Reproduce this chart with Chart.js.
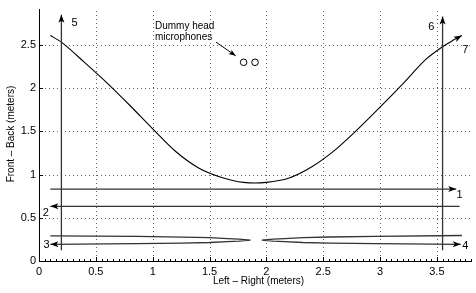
<!DOCTYPE html>
<html>
<head>
<meta charset="utf-8">
<script src="https://cdn.jsdelivr.net/npm/chart.js@4/dist/chart.umd.min.js"></script>
<style>
html, body { margin: 0; padding: 0; background: #fff; }
</style>
</head>
<body>
<canvas id="chart" width="476" height="293"></canvas>
<script>
const FONT = "'Liberation Sans', Arial, Helvetica, sans-serif";

// axes
const xTicks = [0, 0.5, 1, 1.5, 2, 2.5, 3, 3.5];
const yTicks = [0, 0.5, 1, 1.5, 2, 2.5];

// source path (curve 7)
const curveX = [0.10, 0.20, 0.40, 0.60, 0.80, 1.00, 1.20, 1.40, 1.60, 1.80, 2.00, 2.20, 2.40, 2.60, 2.80, 3.00, 3.20, 3.40, 3.55, 3.65, 3.72];
const curveY = [2.61, 2.53, 2.30, 2.06, 1.80, 1.53, 1.27, 1.08, 0.97, 0.91, 0.91, 0.96, 1.09, 1.28, 1.52, 1.78, 2.05, 2.33, 2.48, 2.56, 2.61];

// straight paths 1, 2
const path1X = [0.10, 3.67];
const path1Y = [0.833, 0.833];
const path2X = [3.70, 0.10];
const path2Y = [0.633, 0.633];

// narrow loops 3 and 4
const path3X = [0.10, 0.86, 1.26, 1.50, 1.66, 1.76, 1.86, 1.76, 1.66, 1.50, 1.26, 0.86, 0.10];
const path3Y = [0.290, 0.284, 0.277, 0.270, 0.260, 0.254, 0.242, 0.230, 0.224, 0.214, 0.207, 0.200, 0.193];
const path4X = [3.72, 2.96, 2.56, 2.32, 2.16, 2.06, 1.96, 2.06, 2.16, 2.32, 2.56, 2.96, 3.71];
const path4Y = [0.295, 0.286, 0.278, 0.270, 0.260, 0.254, 0.242, 0.230, 0.224, 0.214, 0.207, 0.200, 0.193];

// vertical paths 5, 6
const path5X = [0.197, 0.197];
const path5Y = [0.125, 2.85];
const path6X = [3.55, 3.55];
const path6Y = [0.125, 2.83];

// microphones + pointer
const micX = [1.8, 1.9];
const micY = [2.3, 2.3];
const pointerX = [1.557, 1.73];
const pointerY = [2.534, 2.375];
const noteLines = ["Dummy head", "microphones"];
const noteX = 1.02;
const noteY = [2.716, 2.59];

// path numbers
const pathLabels = ["1", "2", "3", "4", "5", "6", "7"];
const labelX = [3.70, 0.06, 0.067, 3.75, 0.313, 3.45, 3.75];
const labelY = [0.76, 0.56, 0.19, 0.174, 2.76, 2.71, 2.44];

function pts(xs, ys) {
    return xs.map((x, i) => ({ x: x, y: ys[i] }));
}

function track(xs, ys, color, width, head) {
    return {
        data: pts(xs, ys),
        showLine: true,
        borderColor: color,
        borderWidth: width,
        pointRadius: 0,
        tension: 0,
        arrowHead: head
    };
}

// dotted grid, drawn under the data
const dottedGrid = {
    id: "dottedGrid",
    beforeDatasetsDraw(chart) {
        const ctx = chart.ctx;
        const xs = chart.scales.x, ys = chart.scales.y;
        const area = chart.chartArea;
        ctx.save();
        ctx.fillStyle = "#666";
        // one dot every 4 px along each grid line
        xTicks.slice(1).forEach(v => {
            const px = Math.round(xs.getPixelForValue(v));
            for (let y = area.bottom - 2; y > area.top; y -= 4) ctx.fillRect(px, y, 1, 1);
        });
        yTicks.slice(1).forEach(v => {
            const py = Math.round(ys.getPixelForValue(v));
            for (let x = area.left + 2; x < area.right; x += 4) ctx.fillRect(x, py, 1, 1);
        });
        ctx.restore();
    }
};

const annotate = {
    id: "annotate",
    afterDatasetsDraw(chart) {
        const ctx = chart.ctx;
        const xs = chart.scales.x, ys = chart.scales.y;
        const area = chart.chartArea;

        // arrow heads at the end of flagged datasets
        chart.data.datasets.forEach((ds, i) => {
            if (!ds.arrowHead) return;
            const meta = chart.getDatasetMeta(i);
            const n = meta.data.length;
            const a = meta.data[n - 1], b = meta.data[n - 2];
            const ang = Math.atan2(a.y - b.y, a.x - b.x);
            const L = ds.arrowHead, W = L * 0.38;
            ctx.save();
            ctx.translate(a.x, a.y);
            ctx.rotate(ang);
            ctx.fillStyle = "#000";
            ctx.beginPath();
            ctx.moveTo(0, 0);
            ctx.lineTo(-L, -W);
            ctx.lineTo(-L * 0.75, 0);
            ctx.lineTo(-L, W);
            ctx.closePath();
            ctx.fill();
            ctx.restore();
        });

        // inward ticks (major + minor on x)
        ctx.save();
        ctx.strokeStyle = "#000";
        ctx.lineWidth = 1;
        ctx.beginPath();
        for (let v = 0; v <= 3.8001; v += 0.05) {
            const px = Math.round(xs.getPixelForValue(v)) + 0.5;
            const major = Math.abs(v / 0.5 - Math.round(v / 0.5)) < 1e-6;
            ctx.moveTo(px, area.bottom);
            ctx.lineTo(px, area.bottom - (major ? 4 : 2));
        }
        yTicks.forEach(v => {
            const py = Math.round(ys.getPixelForValue(v)) + 0.5;
            ctx.moveTo(area.left, py);
            ctx.lineTo(area.left + 4, py);
        });
        ctx.stroke();

        // path numbers
        ctx.fillStyle = "#000";
        ctx.font = "11px " + FONT;
        ctx.textAlign = "center";
        ctx.textBaseline = "middle";
        pathLabels.forEach((t, i) => {
            ctx.fillText(t, xs.getPixelForValue(labelX[i]), ys.getPixelForValue(labelY[i]));
        });

        // microphone note
        ctx.font = "10px " + FONT;
        ctx.textAlign = "left";
        noteLines.forEach((t, i) => {
            ctx.fillText(t, xs.getPixelForValue(noteX), ys.getPixelForValue(noteY[i]));
        });

        // axis titles
        ctx.font = "10px " + FONT;
        ctx.textAlign = "center";
        ctx.fillText("Left \u2013 Right (meters)", 258.5, 281);
        ctx.translate(11, 134);
        ctx.rotate(-Math.PI / 2);
        ctx.fillText("Front \u2013 Back (meters)", 0, 0);
        ctx.restore();
    }
};

new Chart(document.getElementById("chart"), {
    type: "scatter",
    data: {
        datasets: [
            track(path1X, path1Y, "#333", 1.3, 8),
            track(path2X, path2Y, "#333", 1.3, 8),
            track(path3X, path3Y, "#333", 1.3, 8),
            track(path4X, path4Y, "#333", 1.3, 8),
            track(path5X, path5Y, "#333", 1.3, 8),
            track(path6X, path6Y, "#333", 1.3, 8),
            {
                data: pts(curveX, curveY),
                showLine: true,
                borderColor: "#000",
                borderWidth: 1.1,
                pointRadius: 0,
                tension: 0.3,
                arrowHead: 8
            },
            track(pointerX, pointerY, "#000", 1, 7),
            {
                data: pts(micX, micY),
                pointStyle: "circle",
                pointRadius: 3.3,
                borderColor: "#000",
                borderWidth: 1,
                backgroundColor: "#fff"
            }
        ]
    },
    options: {
        responsive: false,
        animation: false,
        devicePixelRatio: 1,
        layout: { padding: { top: 5, right: 0, left: 0, bottom: 0 } },
        plugins: { legend: { display: false }, tooltip: { enabled: false } },
        scales: {
            x: {
                type: "linear",
                min: 0,
                max: 3.8,
                afterBuildTicks: s => { s.ticks = xTicks.map(v => ({ value: v })); },
                afterFit: s => { s.height = 32; },
                grid: { drawOnChartArea: false, drawTicks: false },
                border: { color: "#000", width: 1 },
                ticks: { color: "#000", padding: 4, maxRotation: 0, callback: v => String(v), font: { family: FONT, size: 11 } }
            },
            y: {
                type: "linear",
                min: 0,
                max: 2.91,
                afterBuildTicks: s => { s.ticks = yTicks.map(v => ({ value: v })); },
                afterFit: s => { s.width = 39; },
                grid: { drawOnChartArea: false, drawTicks: false },
                border: { color: "#000", width: 1 },
                ticks: { color: "#000", padding: 3, callback: v => String(v), font: { family: FONT, size: 11 } }
            }
        }
    },
    plugins: [dottedGrid, annotate]
});
</script>
</body>
</html>
